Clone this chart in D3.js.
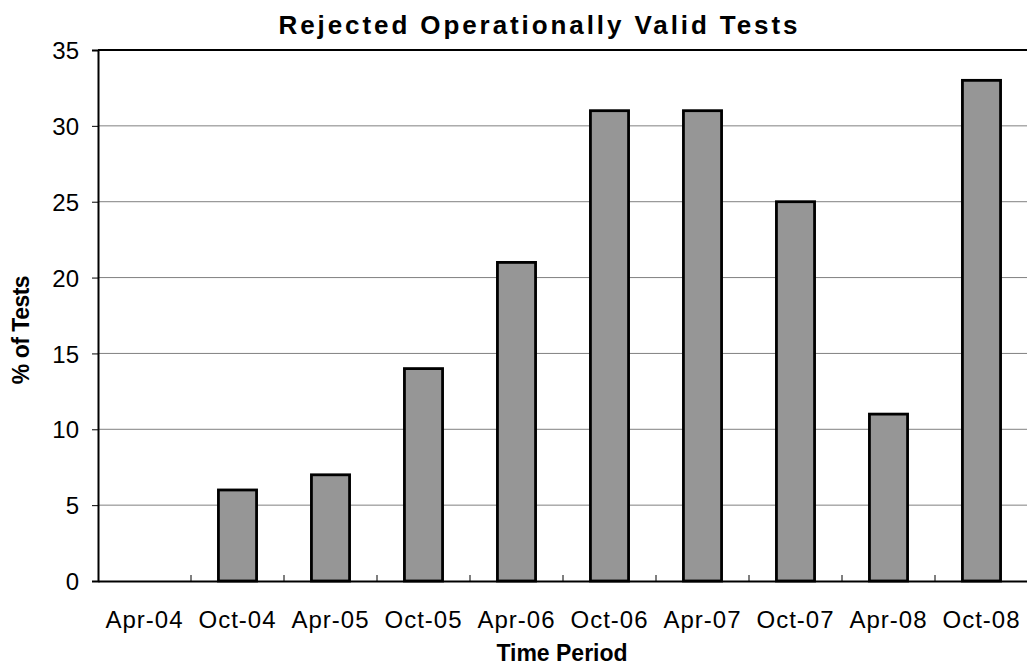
<!DOCTYPE html>
<html>
<head>
<meta charset="utf-8">
<script src="https://cdn.jsdelivr.net/npm/d3@7"></script>
<style>
  body { margin: 0; background: #fff; }
  svg { display: block; font-family: 'Liberation Sans', Arial, sans-serif; }
</style>
</head>
<body>
<svg></svg>
<script>
const periods = ['Apr-04', 'Oct-04', 'Apr-05', 'Oct-05', 'Apr-06', 'Oct-06', 'Apr-07', 'Oct-07', 'Apr-08', 'Oct-08'];
const pctRejected = [0, 6, 7, 14, 21, 31, 31, 25, 11, 33];
const yTicks = [0, 5, 10, 15, 20, 25, 30, 35];

const WIDTH = 1027;
const HEIGHT = 667;
const margin = { top: 50, right: -1, bottom: 86, left: 98 };

window.onload = () => {
  const svg = d3.select('svg')
      .attr('width', WIDTH)
      .attr('height', HEIGHT);

  const x = d3.scaleBand()
      .domain(periods)
      .range([margin.left, WIDTH - margin.right])
      .paddingInner(0.59)
      .paddingOuter(0.295);

  const y = d3.scaleLinear()
      .domain([0, 35])
      .range([HEIGHT - margin.bottom, margin.top]);

  const x0 = margin.left;
  const x1 = WIDTH - margin.right;

  // gridlines
  svg.append('g')
    .selectAll('line')
    .data(yTicks.filter((d) => d > 0 && d < 35))
    .join('line')
      .attr('x1', x0)
      .attr('x2', x1)
      .attr('y1', (d) => y(d))
      .attr('y2', (d) => y(d))
      .attr('stroke', '#808080')
      .attr('stroke-width', 1);

  // top border
  svg.append('line')
      .attr('x1', x0).attr('x2', x1)
      .attr('y1', y(35)).attr('y2', y(35))
      .attr('stroke', '#000').attr('stroke-width', 2);

  // bars
  svg.append('g')
    .selectAll('rect')
    .data(periods.map((p, i) => ({ p, v: pctRejected[i] })).filter((d) => d.v > 0))
    .join('rect')
      .attr('x', (d) => x(d.p))
      .attr('y', (d) => y(d.v))
      .attr('width', x.bandwidth())
      .attr('height', (d) => y(0) - y(d.v))
      .attr('fill', '#969696')
      .attr('stroke', '#000')
      .attr('stroke-width', 2.8);

  // y axis
  const yAxis = svg.append('g')
      .attr('transform', `translate(${x0},0)`)
      .call(d3.axisLeft(y).tickValues(yTicks).tickSize(6).tickPadding(13));
  yAxis.select('.domain').attr('stroke-width', 2);
  yAxis.selectAll('.tick line').attr('stroke-width', 1);
  yAxis.selectAll('.tick text')
      .attr('font-size', 24)
      .attr('font-family', "'Liberation Sans', Arial, sans-serif")
      .attr('fill', '#000')
      .attr('dy', '0.36em');

  // x axis
  const xAxis = svg.append('g')
      .attr('transform', `translate(0,${y(0)})`)
      .call(d3.axisBottom(x).tickSize(0).tickPadding(30));
  xAxis.select('.domain').attr('stroke-width', 2);
  xAxis.selectAll('.tick text')
      .attr('font-size', 24)
      .attr('font-family', "'Liberation Sans', Arial, sans-serif")
      .attr('fill', '#000')
      .attr('letter-spacing', 1);

  // x tick marks between categories, pointing up
  svg.append('g')
    .selectAll('line')
    .data(periods.slice(1))
    .join('line')
      .attr('x1', (d) => x(d) - x.step() * x.paddingInner() / 2)
      .attr('x2', (d) => x(d) - x.step() * x.paddingInner() / 2)
      .attr('y1', y(0))
      .attr('y2', y(0) - 6)
      .attr('stroke', '#000')
      .attr('stroke-width', 1);

  // title
  svg.append('text')
      .attr('x', 538)
      .attr('y', 34)
      .attr('text-anchor', 'middle')
      .attr('font-size', 26)
      .attr('font-weight', 'bold')
      .attr('textLength', 519)
      .attr('lengthAdjust', 'spacing')
      .text('Rejected Operationally Valid Tests');

  // axis titles
  svg.append('text')
      .attr('x', 562)
      .attr('y', 661)
      .attr('text-anchor', 'middle')
      .attr('font-size', 23)
      .attr('font-weight', 'bold')
      .text('Time Period');

  svg.append('text')
      .attr('transform', 'translate(29,330) rotate(-90)')
      .attr('text-anchor', 'middle')
      .attr('font-size', 23)
      .attr('font-weight', 'bold')
      .attr('letter-spacing', -0.5)
      .text('% of Tests');
};
</script>
</body>
</html>
